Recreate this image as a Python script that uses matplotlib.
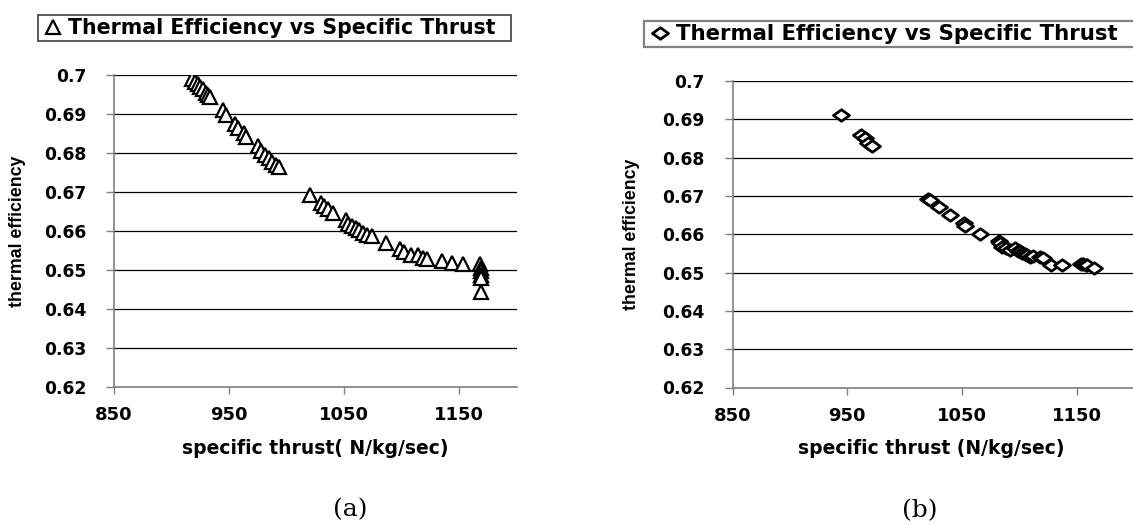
"""
Thermal efficiency against specific thrust, two Excel-style scatter panels.

Output:
    out.png
"""

import matplotlib
matplotlib.use("Agg")
import matplotlib.pyplot as plt
from matplotlib.path import Path


# ---------------------------------------------------------------------
# Data
# ---------------------------------------------------------------------

thrust_a = [
    918.0, 920.5, 922.7, 924.9, 927.3, 929.8, 932.0, 933.5,
    945.0, 947.4, 955.2, 957.6, 962.9, 965.1,
    975.3, 977.4, 981.5, 984.5, 987.6, 990.7, 993.8,
    1020.7, 1030.3, 1032.5, 1036.2, 1040.2,
    1051.7, 1053.5, 1057.2, 1060.3, 1063.4, 1066.5, 1070.2, 1074.2,
    1086.6, 1099.0, 1102.1, 1108.3, 1114.5, 1118.5, 1122.2,
    1135.2, 1143.9, 1153.7,
    1168.6, 1169.2, 1169.2, 1169.2, 1169.2, 1169.2,
]
efficiency_a = [
    0.6991, 0.6983, 0.6977, 0.6970, 0.6963, 0.6955, 0.6949, 0.6943,
    0.6910, 0.6898, 0.6874, 0.6864, 0.6851, 0.6842,
    0.6817, 0.6806, 0.6795, 0.6787, 0.6778, 0.6770, 0.6764,
    0.6693, 0.6672, 0.6663, 0.6656, 0.6646,
    0.6629, 0.6619, 0.6612, 0.6608, 0.6602, 0.6595, 0.6591, 0.6586,
    0.6569, 0.6554, 0.6546, 0.6539, 0.6538, 0.6531, 0.6529,
    0.6522, 0.6518, 0.6516,
    0.6516, 0.6505, 0.6497, 0.6488, 0.6480, 0.6443,
]

thrust_b = [
    944.4, 962.1, 965.3, 968.4, 971.5,
    1020.1, 1022.3, 1030.1, 1039.4, 1051.9, 1052.5, 1065.9,
    1082.4, 1083.0, 1084.6, 1088.0, 1092.0, 1096.1, 1098.6, 1100.0,
    1101.7, 1104.8, 1106.0, 1108.6, 1112.0, 1117.3, 1120.0,
    1127.3, 1136.6, 1153.1, 1155.0, 1157.8, 1159.0, 1164.6,
]
efficiency_b = [
    0.6910, 0.6859, 0.6850, 0.6839, 0.6830,
    0.6692, 0.6690, 0.6670, 0.6650, 0.6630, 0.6622, 0.6600,
    0.6583, 0.6577, 0.6566, 0.6565, 0.6560, 0.6563, 0.6557, 0.6555,
    0.6552, 0.6548, 0.6545, 0.6541, 0.6543, 0.6540, 0.6537,
    0.6520, 0.6520, 0.6522, 0.6523, 0.6520, 0.6521, 0.6511,
]

series_label = "Thermal Efficiency vs Specific Thrust"
y_ticks = [0.62, 0.63, 0.64, 0.65, 0.66, 0.67, 0.68, 0.69, 0.70]
y_tick_labels = ["0.62", "0.63", "0.64", "0.65", "0.66", "0.67", "0.68", "0.69", "0.7"]
x_ticks = [850, 950, 1050, 1150]
x_labels = ["specific thrust( N/kg/sec)", "specific thrust (N/kg/sec)"]
y_label = "thermal efficiency"
panel_tags = ["(a)", "(b)"]


# ---------------------------------------------------------------------
# Layout helpers (pixel positions of the 1133 x 525 picture)
# ---------------------------------------------------------------------

W, H = 1133, 525
BOLD_WIDE = {"family": "DejaVu Sans", "weight": "bold"}


def fx(px):
    return px / W


def fy(py):
    return 1 - py / H


# flattened diamond like the one Excel draws
FLAT_DIAMOND = Path([(-1, 0), (0, 0.72), (1, 0), (0, -0.72), (-1, 0)],
                    [Path.MOVETO, Path.LINETO, Path.LINETO, Path.LINETO, Path.CLOSEPOLY])


panels = [
    dict(x=thrust_a, y=efficiency_a, marker="^", ms=10.5, mew=1.6,
         axes_px=(114, 75, 516.5, 387), legend_px=(37.5, 13.3, 473.5, 29),
         legend_size=14.8, ylabel_x=18, xlabel_xy=(315, 449), tag_xy=(350, 510)),
    dict(x=thrust_b, y=efficiency_b, marker=FLAT_DIAMOND, ms=11.5, mew=2.0,
         axes_px=(732.5, 81, 1134.5, 387.5), legend_px=(644, 19.5, 520, 29.5),
         legend_size=15.3, ylabel_x=631, xlabel_xy=(931, 448), tag_xy=(920, 511)),
]


# ---------------------------------------------------------------------
# Figure
# ---------------------------------------------------------------------

fig = plt.figure(figsize=(W / 100, H / 100), dpi=100)

for idx, p in enumerate(panels):
    left, top, right, bottom = p["axes_px"]
    ax = fig.add_axes([fx(left), fy(bottom), (right - left) / W, (bottom - top) / H])

    line, = ax.plot(p["x"], p["y"], linestyle="none", marker=p["marker"],
                    markersize=p["ms"], markerfacecolor="white",
                    markeredgecolor="black", markeredgewidth=p["mew"],
                    label=series_label, zorder=3)

    ax.set_xlim(850, 1200)
    ax.set_ylim(0.62, 0.70)
    ax.set_xticks(x_ticks)
    ax.set_xticklabels([str(v) for v in x_ticks], fontdict=BOLD_WIDE, fontsize=13)
    ax.set_yticks(y_ticks)
    ax.set_yticklabels(y_tick_labels, fontdict=BOLD_WIDE, fontsize=12.3)

    ax.grid(axis="y", color="black", linewidth=0.9)
    ax.grid(axis="x", visible=False)
    ax.set_axisbelow(True)

    for side in ("top", "right"):
        ax.spines[side].set_visible(False)
    for side in ("left", "bottom"):
        ax.spines[side].set_color("#808080")
        ax.spines[side].set_linewidth(1.2)
    ax.tick_params(axis="y", length=6, width=1, color="#808080", pad=14)
    ax.tick_params(axis="x", length=5, width=1, color="#808080", pad=9)

    # axis titles placed in picture pixels
    fig.text(fx(p["ylabel_x"]), fy((top + bottom) / 2), y_label, rotation=90,
             ha="center", va="center", fontsize=12.8, fontweight="bold",
             family="Liberation Sans")
    xl, yl = p["xlabel_xy"]
    fig.text(fx(xl), fy(yl), x_labels[idx], ha="center", va="center",
             fontsize=13.5, **BOLD_WIDE)
    tx, ty = p["tag_xy"]
    fig.text(fx(tx), fy(ty), panel_tags[idx], ha="center", va="center",
             fontsize=18, family="DejaVu Serif")

    # boxed legend above the plot
    lx, ly, lw, lh = p["legend_px"]
    leg = ax.legend(handles=[line], loc="center left",
                    bbox_to_anchor=(fx(lx), fy(ly + lh), lw / W, lh / H),
                    bbox_transform=fig.transFigure, mode="expand",
                    borderaxespad=0, borderpad=0.15, handlelength=1.2,
                    handletextpad=0.15, numpoints=1, fancybox=False,
                    framealpha=1, edgecolor="#404040" if idx == 0 else "#808080",
                    prop={"family": "DejaVu Sans", "weight": "bold",
                          "size": p["legend_size"]})
    leg.get_frame().set_linewidth(1.2 if idx == 0 else 1.6)

fig.savefig("out.png", dpi=100)
